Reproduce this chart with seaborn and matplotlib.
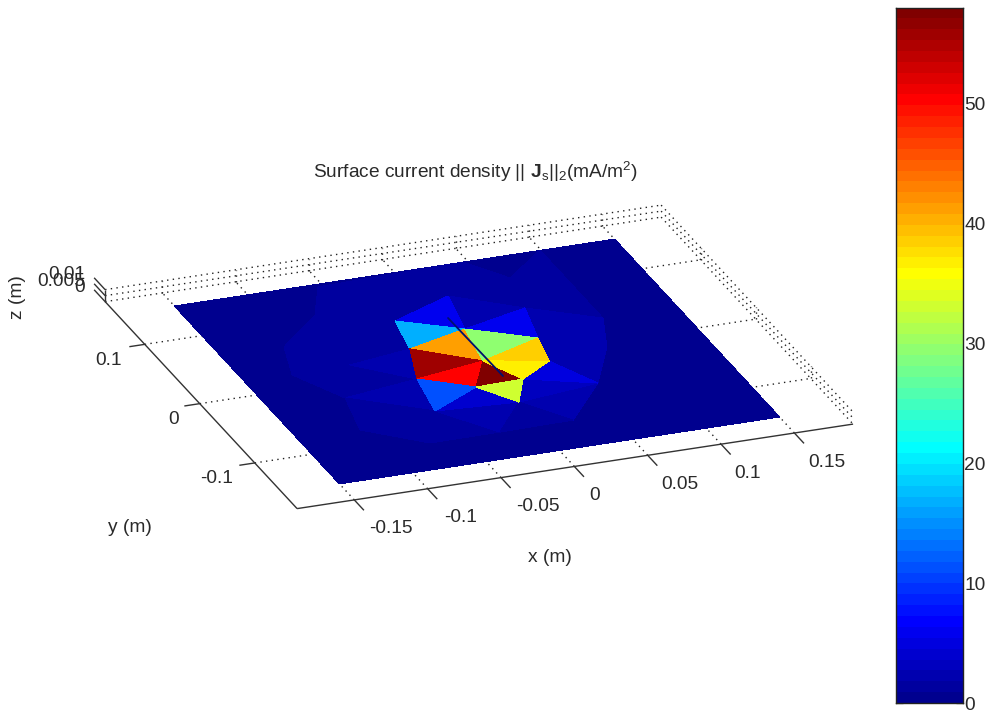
"""
Surface current density on a plate, flat shaded triangles in an oblique 3D view
"""
import matplotlib
matplotlib.use('Agg')
import matplotlib.pyplot as plt
from matplotlib.colors import ListedColormap
import seaborn as sns
import numpy as np

# mesh vertices (metres)
vertex_names = ['P1', 'P2', 'P3', 'P4', 'A', 'B', 'C', 'D', 'E', 'F', 'G', 'H', 'I', 'J', 'K', 'L', 'M',
                'Q1', 'Q2', 'Q3', 'Q4', 'Q5', 'Q6', 'Q7', 'Q8', 'Q9', 'Q10', 'Q11', 'Q12', 'Q13', 'Q14', 'Q15',
                'S1', 'S2']
vertex_x = [-0.15, 0.15, 0.15, -0.15, -0.0265, 0.0190, 0.0108, -0.0331, 0.0039, -0.0455, -0.0147, -0.0525,
            0.0178, 0.0026, 0.0433, 0.0494, 0.0583,
            -0.0537, -0.0710, -0.1072, -0.1179, -0.0990, -0.1078, -0.0732, -0.0253, 0.0249, 0.0603, 0.0856,
            0.0993, 0.0994, 0.0660, 0.0468, -0.0616, -0.0778]
vertex_y = [0.15, 0.15, -0.15, -0.15, 0.0783, 0.1033, 0.0507, 0.0336, -0.0006, -0.0124, -0.0375, -0.0637,
            -0.0362, -0.0693, -0.0155, 0.0210, 0.0683,
            0.1459, 0.1052, 0.0649, 0.0217, -0.0243, -0.0749, -0.1099, -0.1094, -0.1081, -0.0590, -0.0078,
            0.0359, 0.1506, 0.1160, 0.1502, 0.0629, 0.0234]

# faces and their current density, later faces paint over earlier ones
faces = [('P1', 'P2', 'P3'), ('P1', 'P3', 'P4'),
         ('E', 'Q1', 'Q2'), ('E', 'Q2', 'Q3'), ('E', 'Q3', 'Q4'), ('E', 'Q4', 'Q5'), ('E', 'Q5', 'Q6'),
         ('E', 'Q6', 'Q7'), ('E', 'Q7', 'Q8'), ('E', 'Q8', 'Q9'), ('E', 'Q9', 'Q10'), ('E', 'Q10', 'Q11'),
         ('E', 'Q11', 'Q12'), ('E', 'Q12', 'Q13'), ('E', 'Q13', 'Q14'), ('E', 'Q14', 'Q15'), ('E', 'Q15', 'Q1'),
         ('S1', 'A', 'D'), ('S2', 'D', 'F'), ('Q5', 'F', 'H'), ('Q5', 'H', 'Q7'),
         ('H', 'J', 'Q8'), ('J', 'Q10', 'Q9'), ('J', 'Q9', 'Q8'),
         ('B', 'M', 'Q14'), ('B', 'Q14', 'Q15'), ('A', 'B', 'Q1'),
         ('L', 'M', 'Q12'), ('L', 'Q12', 'Q11'), ('L', 'K', 'Q11'), ('K', 'Q11', 'Q10'),
         ('H', 'G', 'J'), ('J', 'I', 'Q10'), ('K', 'I', 'Q10'), ('B', 'C', 'M'),
         ('A', 'B', 'C'), ('C', 'M', 'L'),
         ('A', 'C', 'D'), ('C', 'E', 'D'), ('D', 'E', 'F'), ('F', 'E', 'G'), ('E', 'I', 'G'),
         ('F', 'G', 'H'), ('G', 'I', 'J'), ('C', 'L', 'E'), ('E', 'L', 'K'), ('E', 'K', 'I')]
face_values = [0.2, 0.2,
               1.0, 1.0, 1.0, 1.0, 1.0,
               1.0, 1.0, 1.0, 1.0, 1.0,
               1.0, 1.2, 1.2, 1.2, 1.0,
               1.8, 2.2, 2.6, 1.6,
               2.2, 2.0, 1.4,
               1.5, 1.5, 1.3,
               2.3, 2.2, 2.2, 2.5,
               4.0, 3.2, 4.8, 2.5,
               5.5, 5.5,
               17, 41, 55.6, 50.5, 58,
               10.9, 33, 29, 38.5, 37]

# thin feed wire lying across the hot spot
wire_x = [0.0068, 0.0075]
wire_y = [0.0708, -0.0273]

x_ticks = [-0.15, -0.1, -0.05, 0, 0.05, 0.1, 0.15]
y_ticks = [-0.1, 0, 0.1]
z_ticks = [0, 0.005, 0.01]
z_tick_labels = ['0', '0.005', '0.01']
cbar_ticks = [0, 10, 20, 30, 40, 50]
cbar_max = 58

x_lim = (-0.189, 0.190)
y_lim = (-0.177, 0.172)

sns.set_style('white')
plt.rcParams['font.family'] = ['Liberation Sans', 'DejaVu Sans']
plt.rcParams['mathtext.fontset'] = 'custom'
plt.rcParams['mathtext.rm'] = 'Liberation Sans'
plt.rcParams['mathtext.bf'] = 'Liberation Sans:bold'
plt.rcParams['mathtext.default'] = 'regular'

text_color = '#2a2a2a'
font_size = 13.8


def matlab_jet(n=64):
    # MATLAB's jet differs slightly from matplotlib's at both ends
    t = np.arange(1, n + 1) / n
    rgb = np.column_stack([1.5 - np.abs(4 * t - 3), 1.5 - np.abs(4 * t - 2), 1.5 - np.abs(4 * t - 1)])
    return ListedColormap(np.clip(rgb, 0, 1))


jet64 = matlab_jet()


def project(x, y, z=0.0):
    # orthographic view, result is in figure pixels
    x, y, z = np.asarray(x), np.asarray(y), np.asarray(z)
    return 477 + 1467 * x - 550 * y, 361.5 - 223 * x - 593 * y - 1200 * z


def dotted(ax, p0, p1):
    xs, ys = project(*zip(p0, p1))
    ax.plot(xs, ys, color='#222222', lw=1.0, ls=(0, (1.0, 3.1)), zorder=1)


def solid(ax, p0, p1):
    xs, ys = project(*zip(p0, p1))
    ax.plot(xs, ys, color='#333333', lw=1.0, zorder=3, solid_capstyle='butt')


fig = plt.figure(figsize=(9.93, 7.13), dpi=100)
ax = fig.add_axes([0, 0, 1, 1])
ax.set_xlim(0, 993)
ax.set_ylim(713, 0)
ax.axis('off')

x0, x1 = x_lim
y0, y1 = y_lim
z_top = z_ticks[-1]

# dotted grid on floor and back walls
for xt in x_ticks:
    dotted(ax, (xt, y0, 0), (xt, y1, 0))
    dotted(ax, (xt, y1, 0), (xt, y1, z_top))
for yt in y_ticks:
    dotted(ax, (x0, yt, 0), (x1, yt, 0))
    dotted(ax, (x1, yt, 0), (x1, yt, z_top))
for zt in z_ticks:
    dotted(ax, (x0, y1, zt), (x1, y1, zt))
    dotted(ax, (x1, y1, zt), (x1, y0, zt))

# plate, no antialiasing so the faces leave no seams
px, py = project(vertex_x, vertex_y)
triangles = [[vertex_names.index(n) for n in face] for face in faces]
ax.tripcolor(px, py, triangles=triangles, facecolors=np.array(face_values, dtype=float),
             cmap=jet64, vmin=0, vmax=cbar_max, edgecolors='none', antialiased=False, zorder=2)
wx, wy = project(wire_x, wire_y)
ax.plot(wx, wy, color='#00106e', lw=1.3, zorder=3)

# axis lines and ticks
solid(ax, (x0, y1, 0), (x0, y0, 0))
solid(ax, (x0, y0, 0), (x1, y0, 0))
solid(ax, (x0, y1, 0), (x0, y1, z_top))
for xt in x_ticks:
    solid(ax, (xt, y0, 0), (xt, y0 - 0.0175, 0))
for yt in y_ticks:
    solid(ax, (x0, yt, 0), (x0 - 0.0105, yt, 0))
for zt in z_ticks:
    solid(ax, (x0, y1, zt), (x0, y1 + 0.02, zt))

# tick labels sit unevenly in the original, so each one has its own nudge
x_label_dx = [37, 33, 37, 20, 32, 26, 32]
y_label_dx = [-38, -26, -36]
z_label_dy = [-14, -20, -27]
for xt, dx in zip(x_ticks, x_label_dx):
    tx, ty = project(xt, y0)
    ax.text(tx + dx, ty + 29, f'{xt:g}', ha='center', va='center', fontsize=font_size, color=text_color)
for yt, dx in zip(y_ticks, y_label_dx):
    tx, ty = project(x0, yt)
    ax.text(tx + dx, ty + 16, f'{yt:g}', ha='center', va='center', fontsize=font_size, color=text_color)
for lab, dy in zip(z_tick_labels, z_label_dy):
    tx, ty = project(x0, y1)
    ax.text(tx - 20, ty + dy, lab, ha='right', va='center', fontsize=font_size, color=text_color)

ax.text(550, 558, 'x (m)', ha='center', va='center', fontsize=font_size, color=text_color)
ax.text(130, 527, 'y (m)', ha='center', va='center', fontsize=font_size, color=text_color)
ax.text(18, 297, 'z (m)', ha='center', va='center', rotation=90, fontsize=font_size, color=text_color)
ax.text(475, 172, r'Surface current density || $\mathbf{J}_{s}$||$_{2}$(mA/m$^{2}$)',
        ha='center', va='center', fontsize=font_size, color=text_color)

# colorbar as a one column heatmap
cax = fig.add_axes([896 / 993, 1 - 703 / 713, 67 / 993, 695.5 / 713])
levels = np.arange(64)[::-1].reshape(-1, 1)
sns.heatmap(levels, cmap=jet64, cbar=False, ax=cax, xticklabels=False, yticklabels=False)
for spine in cax.spines.values():
    spine.set_visible(True)
    spine.set_color('#222222')
    spine.set_linewidth(1.0)
cax.set_yticks([(cbar_max - v) / cbar_max * 64 for v in cbar_ticks])
cax.set_yticklabels(cbar_ticks, fontsize=font_size, color=text_color, rotation=0)
cax.tick_params(axis='y', direction='in', left=True, right=True, labelleft=False, labelright=True,
                length=5, width=0.9, color='#222222', pad=1)

plt.savefig('out.png', dpi=100)
plt.close()
